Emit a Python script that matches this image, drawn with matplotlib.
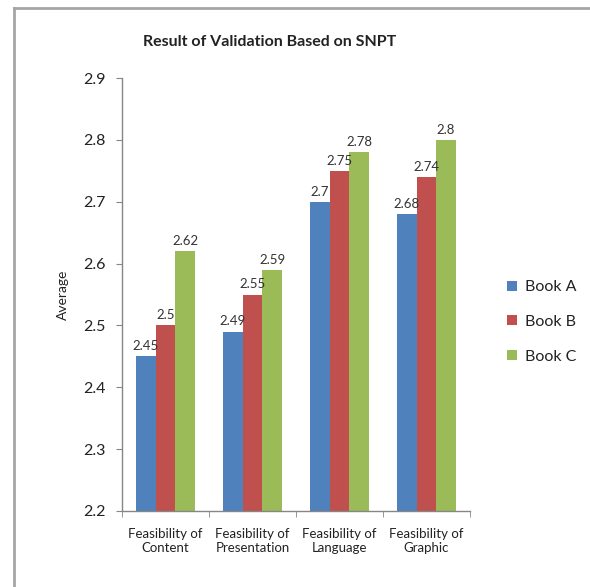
import matplotlib.pyplot as plt
import numpy as np

categories = ["Feasibility of\nContent", "Feasibility of\nPresentation",
              "Feasibility of\nLanguage", "Feasibility of\nGraphic"]
series_names = ["Book A", "Book B", "Book C"]
book_a = [2.45, 2.49, 2.70, 2.68]
book_b = [2.50, 2.55, 2.75, 2.74]
book_c = [2.62, 2.59, 2.78, 2.80]
label_text = [["2.45", "2.49", "2.7", "2.68"],
              ["2.5", "2.55", "2.75", "2.74"],
              ["2.62", "2.59", "2.78", "2.8"]]
y_ticks = [2.2, 2.3, 2.4, 2.5, 2.6, 2.7, 2.8, 2.9]

colors = ["#4F81BD", "#C0504D", "#9BBB59"]
plt.rcParams['font.family'] = ['Lato', 'DejaVu Sans']

fig = plt.figure(figsize=(5.90, 5.87), dpi=100)
fig.patch.set_facecolor("white")

# chart-area frame (left and top edges visible)
fig.add_artist(plt.Line2D([14 / 590, 14 / 590], [0, 1 - 8 / 587],
                          transform=fig.transFigure, color="#A6A6A6", lw=2))
fig.add_artist(plt.Line2D([14 / 590, 1], [1 - 8 / 587, 1 - 8 / 587],
                          transform=fig.transFigure, color="#A6A6A6", lw=2))

ax = fig.add_axes([122 / 590, 1 - 511 / 587, 348 / 590, 433 / 587])

x = np.arange(len(categories))
bw = 0.225
for i, (vals, c) in enumerate(zip([book_a, book_b, book_c], colors)):
    pos = x + (i - 1) * bw
    bars = ax.bar(pos, vals, width=bw, color=c, label=series_names[i], zorder=2)
    for b, v, t in zip(bars, vals, label_text[i]):
        ax.annotate(t, (b.get_x() + b.get_width() / 2, v), xytext=(0, 3),
                    textcoords="offset points", ha="center", va="bottom",
                    fontsize=9.5, color="#333333")

ax.set_xlim(-0.5, len(categories) - 0.5)
ax.set_ylim(2.2, 2.9)
ax.set_yticks(y_ticks)
ax.set_yticklabels([f"{v:.1f}" for v in y_ticks], fontsize=11.5, color="#222222")
ax.set_xticks(x)
ax.set_xticklabels(categories, fontsize=9.5, color="#222222")
ax.set_xticks(np.arange(-0.5, len(categories)), minor=True)
ax.tick_params(axis="x", which="major", length=0, pad=12)
ax.tick_params(axis="x", which="minor", length=4, color="#868686")
ax.tick_params(axis="y", length=4, color="#868686", pad=8)

for s in ["top", "right"]:
    ax.spines[s].set_visible(False)
for s in ["left", "bottom"]:
    ax.spines[s].set_color("#868686")
    ax.spines[s].set_linewidth(1)

ax.set_ylabel("Average", fontsize=10, color="#222222", labelpad=10)
fig.text(270 / 590, 1 - 42 / 587, "Result of Validation Based on SNPT",
         ha="center", va="center", fontsize=11.5, fontweight="bold", color="#222222")

leg = fig.legend(loc="center left", bbox_to_anchor=(493 / 590, 1 - 322 / 587),
                 frameon=False, fontsize=11.5, handlelength=0.6, handleheight=0.6,
                 handletextpad=0.5, labelspacing=1.3)
for t in leg.get_texts():
    t.set_color("#222222")

fig.savefig("out.png", dpi=100, facecolor="white")
